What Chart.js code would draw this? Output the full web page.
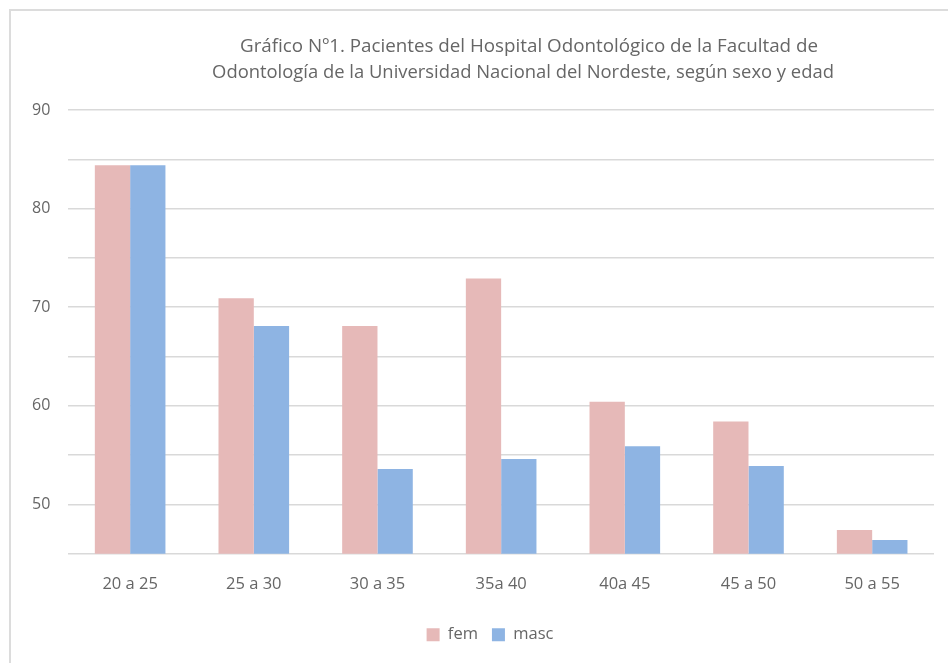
<!DOCTYPE html>
<html>
<head>
<meta charset="utf-8">
<script src="https://cdn.jsdelivr.net/npm/chart.js@4"></script>
<style>
  html, body { margin: 0; padding: 0; background: #fff; }
  #wrap { width: 948px; height: 663px; }
</style>
</head>
<body>
<div id="wrap"><canvas id="grafico" width="948" height="663"></canvas></div>
<script>
// datos del gráfico
const categorias = ['20 a 25', '25 a 30', '30 a 35', '35a 40', '40a 45', '45 a 50', '50 a 55'];
const fem = [84.4, 70.9, 68.1, 72.9, 60.4, 58.4, 47.4];
const masc = [84.4, 68.1, 53.6, 54.6, 55.9, 53.9, 46.4];
const yEtiquetas = [50, 60, 70, 80, 90];
const titulo = [
    'Gráfico Nº1. Pacientes del Hospital Odontológico de la Facultad de',
    'Odontología de la Universidad Nacional del Nordeste, según sexo y edad'
];

const gris = '#666666';
const fuente = "'Open Sans', 'Liberation Sans', sans-serif";

// marco y título (como en Excel)
const marcoTitulo = {
    id: 'marcoTitulo',
    afterLayout(chart) {
        // la leyenda está algo corrida a la derecha en el original
        chart.legend.left += 16;
        chart.legend.right += 16;
    },
    beforeDraw(chart) {
        const c = chart.ctx;
        c.save();
        c.fillStyle = '#fff';
        c.fillRect(0, 0, chart.width, chart.height);
        c.strokeStyle = '#dcdcdc';
        c.lineWidth = 2;
        c.beginPath();
        c.moveTo(10, chart.height);
        c.lineTo(10, 10);
        c.lineTo(chart.width, 10);
        c.stroke();
        c.restore();
    },
    afterDraw(chart) {
        const c = chart.ctx;
        c.save();
        c.fillStyle = gris;
        c.textAlign = 'center';
        c.textBaseline = 'middle';
        c.font = "18.8px " + fuente;
        c.fillText(titulo[0], 529, 47);
        c.font = "18.4px " + fuente;
        c.fillText(titulo[1], 523, 73);
        c.restore();
    }
};

const ctx = document.getElementById('grafico').getContext('2d');
new Chart(ctx, {
    type: 'bar',
    data: {
        labels: categorias,
        datasets: [
            { label: 'fem', data: fem, backgroundColor: '#e6b9b8' },
            { label: 'masc', data: masc, backgroundColor: '#8eb4e3' }
        ]
    },
    options: {
        responsive: false,
        animation: false,
        layout: { padding: { top: 110, left: 14, right: 14, bottom: 10 } },
        datasets: { bar: { barPercentage: 1, categoryPercentage: 0.571 } },
        scales: {
            y: {
                min: 45,
                max: 90,
                border: { display: false },
                grid: { color: '#d9d9d9', lineWidth: 1.5, drawTicks: false },
                ticks: {
                    stepSize: 5,
                    padding: 18,
                    color: gris,
                    font: { family: fuente, size: 16 },
                    callback: v => yEtiquetas.includes(v) ? v : ''
                }
            },
            x: {
                afterFit: s => { s.height += 5; },
                border: { display: false },
                grid: { display: false },
                ticks: {
                    padding: 13,
                    color: gris,
                    font: { family: fuente, size: 16.5 },
                    maxRotation: 0
                }
            }
        },
        plugins: {
            legend: {
                position: 'bottom',
                labels: {
                    boxWidth: 13,
                    boxHeight: 13,
                    padding: 14,
                    color: gris,
                    font: { family: fuente, size: 16.5 }
                }
            },
            title: { display: false },
            tooltip: { enabled: false }
        }
    },
    plugins: [marcoTitulo]
});
</script>
</body>
</html>
